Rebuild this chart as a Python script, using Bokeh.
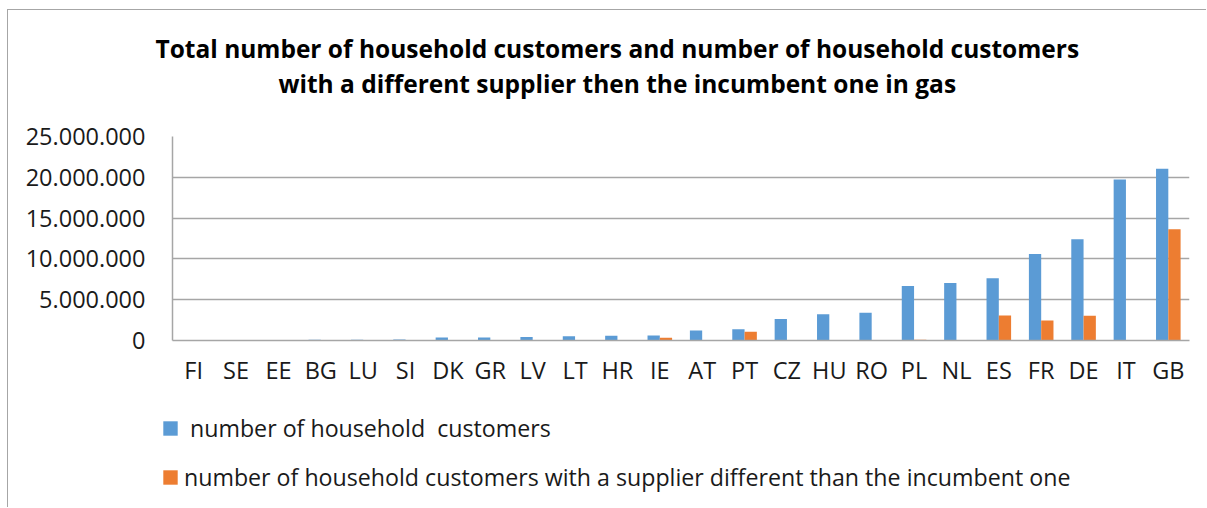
from bokeh.plotting import figure
from bokeh.layouts import column
from bokeh.models import (Title, Legend, LegendItem, CustomJSTickFormatter, Range1d,
                          SingleIntervalTicker, ColumnDataSource)
from bokeh.transform import dodge
from bokeh.embed import file_html
from bokeh.resources import INLINE

countries = ["FI", "SE", "EE", "BG", "LU", "SI", "DK", "GR", "LV", "LT", "HR", "IE",
             "AT", "PT", "CZ", "HU", "RO", "PL", "NL", "ES", "FR", "DE", "IT", "GB"]
household_customers = [30000, 30000, 40000, 100000, 80000, 130000, 370000, 370000,
                       440000, 510000, 570000, 610000, 1230000, 1390000, 2620000,
                       3230000, 3400000, 6680000, 7060000, 7620000, 10600000,
                       12400000, 19740000, 21050000]
switched_customers = [0, 0, 0, 0, 0, 0, 0, 0, 0, 0, 0, 330000, 0, 1060000, 0, 0, 0,
                      100000, 0, 3070000, 2460000, 3030000, 0, 13640000]

title_line1 = "Total number of household customers and number of household customers"
title_line2 = "with a different supplier then the incumbent one in gas"
label_total = " number of household  customers"
label_switched = "number of household customers with a supplier different than the incumbent one"

FONT = "Open Sans"
BLUE = "#5B9BD5"
ORANGE = "#ED7D31"
GRID = "#A6A6A6"
TEXT = "#1A1A1A"

src = ColumnDataSource(dict(country=countries, total=household_customers,
                            switched=switched_customers))

# ---- main chart -------------------------------------------------------------
p = figure(x_range=countries, y_range=Range1d(0, 25000000),
           width=1198, height=390, output_backend="svg", toolbar_location=None,
           min_border_left=164, min_border_right=17, min_border_top=126,
           min_border_bottom=60)

p.vbar(x=dodge("country", -0.145, range=p.x_range), top="total", width=0.29,
       source=src, fill_color=BLUE, line_color=None)
p.vbar(x=dodge("country", 0.145, range=p.x_range), top="switched", width=0.29,
       source=src, fill_color=ORANGE, line_color=None)

p.outline_line_color = None
p.xgrid.grid_line_color = None
p.ygrid.grid_line_color = GRID
p.ygrid.grid_line_width = 1.5

p.yaxis.ticker = SingleIntervalTicker(interval=5000000)
p.yaxis.formatter = CustomJSTickFormatter(code="""
    return Math.round(tick).toString().replace(/\\B(?=(\\d{3})+(?!\\d))/g, '.');
""")
for ax in (p.xaxis, p.yaxis):
    ax.axis_line_color = GRID
    ax.axis_line_width = 1.5
    ax.major_tick_line_color = None
    ax.minor_tick_line_color = None
    ax.major_label_text_font = FONT
    ax.major_label_text_font_size = "23.5px"
    ax.major_label_text_color = TEXT
p.yaxis.major_label_standoff = 21
p.xaxis.major_label_standoff = 7

spacer = Title(text=" ", text_font_size="1px", standoff=34)
t2 = Title(text=title_line2, align="left", offset=106, text_font=FONT,
           text_font_size="24.5px", text_font_style="bold", text_color="#000000",
           standoff=0)
t1 = Title(text=title_line1, align="left", offset=-17, text_font=FONT,
           text_font_size="24.5px", text_font_style="bold", text_color="#000000",
           standoff=0)
p.add_layout(spacer, "above")
p.add_layout(t2, "above")
p.add_layout(t1, "above")

# ---- legend strip below the chart ------------------------------------------
# Same series drawn on a window below zero, so only their legend keys show.
lg = figure(width=1198, height=107, x_range=p.x_range, y_range=Range1d(-1, 0),
            output_backend="svg", toolbar_location=None, min_border=0,
            x_axis_location=None, y_axis_location=None)
lg.outline_line_color = None
for g in lg.grid:
    g.visible = False
k1 = lg.vbar(x=dodge("country", -0.145, range=p.x_range), top="total", width=0.29,
             source=src, fill_color=BLUE, line_color=None)
k2 = lg.vbar(x=dodge("country", 0.145, range=p.x_range), top="switched", width=0.29,
             source=src, fill_color=ORANGE, line_color=None)

for fig in (p, lg):
    if "frame_align" in fig.properties():
        fig.frame_align = False

legend = Legend(items=[LegendItem(label=label_total, renderers=[k1]),
                       LegendItem(label=label_switched, renderers=[k2])],
                orientation="vertical", location=(153, 14),
                label_text_font=FONT, label_text_font_size="23.2px",
                label_text_color=TEXT, glyph_width=18, glyph_height=18,
                label_standoff=5, spacing=17, margin=0, padding=0,
                border_line_color=None, background_fill_alpha=0)
lg.add_layout(legend)

layout = column(p, lg, spacing=0,
                styles={"margin-left": "7px", "margin-top": "9px",
                        "border-top": "1px solid #A6A6A6",
                        "border-left": "1px solid #A6A6A6"})

open("out.html", "w").write(file_html(layout, INLINE))
